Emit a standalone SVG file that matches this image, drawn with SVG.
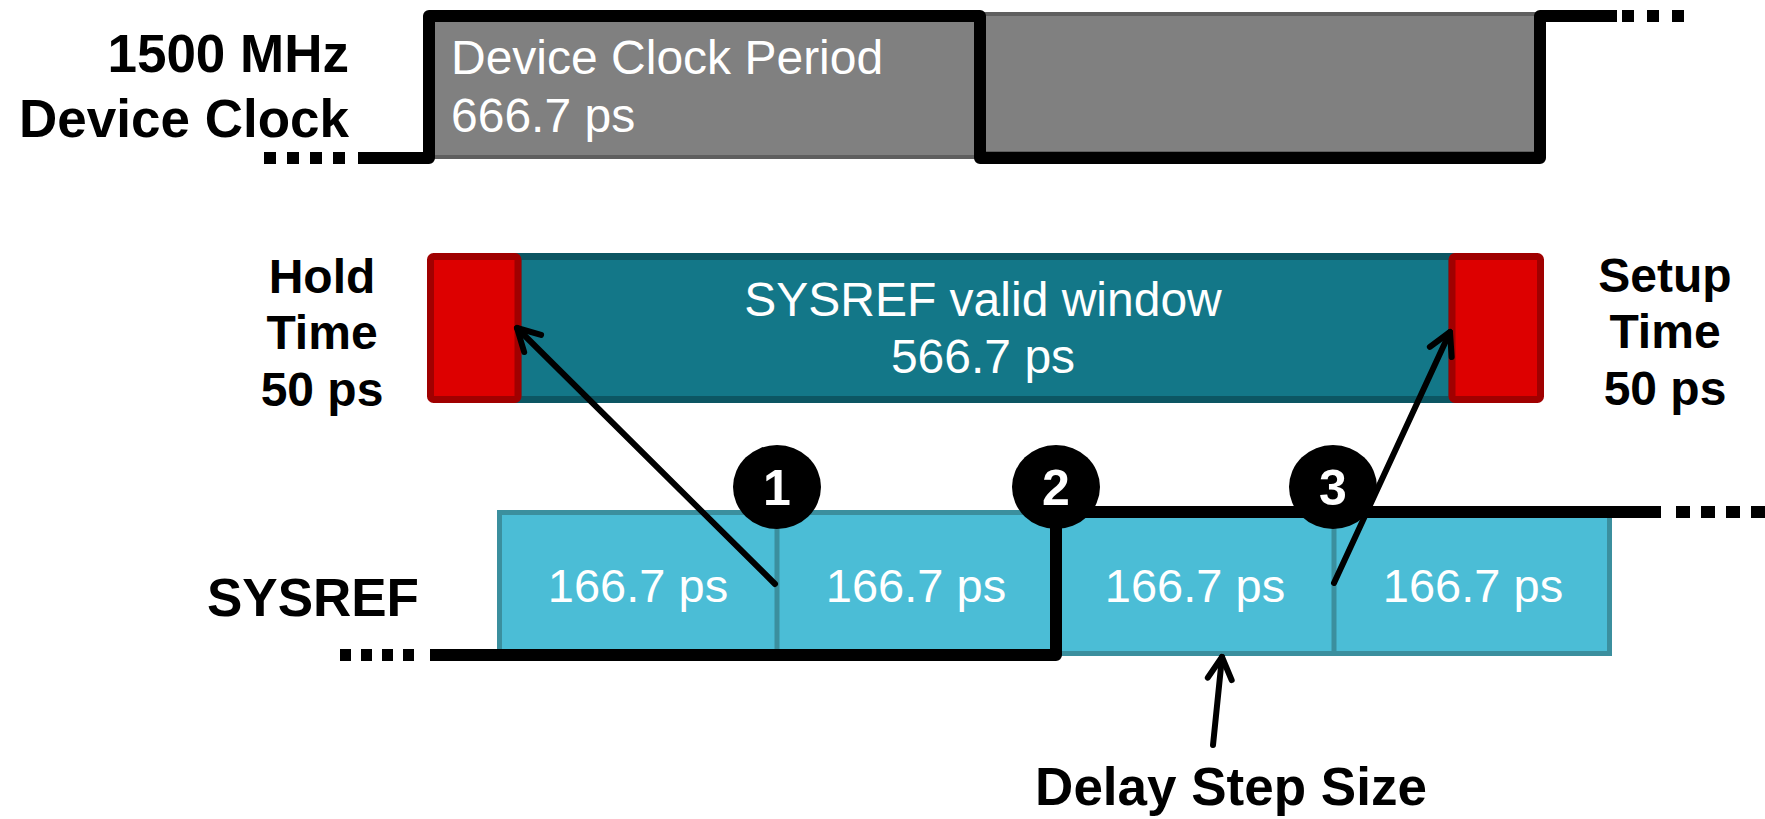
<svg xmlns="http://www.w3.org/2000/svg" width="1765" height="819" viewBox="0 0 1765 819">
  <style>
    .lbl { font-family: "Liberation Sans", Arial, sans-serif; font-weight: bold; fill: #000; }
    .val { font-family: "Liberation Sans", Arial, sans-serif; fill: #fff; font-size: 47px; }
    .big { font-size: 48px; }
    .num { font-family: "Liberation Sans", Arial, sans-serif; font-weight: bold; fill: #fff; font-size: 50px; text-anchor: middle; }
    .wave { fill: none; stroke: #000; stroke-width: 12; stroke-linejoin: round; }
    .dots { fill: none; stroke: #000; stroke-width: 12; }
    .period { fill: #808080; stroke: #5f5f5f; stroke-width: 4; }
    .hold { fill: #dd0000; stroke: #a00000; stroke-width: 7; }
    .valid { fill: #137788; stroke: #0c5663; stroke-width: 7; }
    .step { fill: #4bbdd6; stroke: #3b8f9e; stroke-width: 5; }
    .ptr { fill: none; stroke: #000; stroke-width: 6; stroke-linecap: round; }
    .badge { fill: #000; }
  </style>
  <defs>
    <marker id="open-head" markerUnits="userSpaceOnUse" markerWidth="40" markerHeight="40" refX="0" refY="0" viewBox="-30 -20 40 40" orient="auto" overflow="visible">
      <path d="M -22 -12 L 0 0 L -22 12" fill="none" stroke="#000" stroke-width="6" stroke-linecap="round" stroke-linejoin="round"/>
    </marker>
  </defs>

  <rect width="1765" height="819" fill="#fff"/>

  <!-- device clock -->
  <g id="device-clock">
    <rect class="period" x="433" y="16" width="545" height="141"/>
    <rect class="period" x="982" y="14" width="556" height="139"/>
    <text class="val big" x="451" y="74">Device Clock Period</text>
    <text class="val big" x="451" y="132">666.7 ps</text>
    <path class="dots" d="M 264 158 H 350" stroke-dasharray="12 11"/>
    <path class="wave" d="M 358 158 H 429 V 16 H 980 V 158 H 1540 V 16 H 1617"/>
    <path class="dots" d="M 1622 16 H 1690" stroke-dasharray="12 13"/>
  </g>
  <g id="clock-label">
    <text class="lbl" x="349" y="72" font-size="53" text-anchor="end">1500 MHz</text>
    <text class="lbl" x="349" y="137" font-size="53" text-anchor="end">Device Clock</text>
  </g>

  <!-- sampling window -->
  <g id="valid-window">
    <rect class="valid" x="518" y="256.5" width="934" height="143"/>
    <text class="val big" x="983" y="316" text-anchor="middle">SYSREF valid window</text>
    <text class="val big" x="983" y="373" text-anchor="middle">566.7 ps</text>
  </g>
  <g id="hold-window">
    <rect class="hold" x="430.5" y="256.5" width="87.5" height="143" rx="3"/>
  </g>
  <g id="setup-window">
    <rect class="hold" x="1452" y="256.5" width="88.5" height="143" rx="3"/>
  </g>
  <g id="hold-label">
    <text class="lbl" font-size="48" text-anchor="middle"><tspan x="322" y="293">Hold</tspan><tspan x="322" y="349">Time</tspan><tspan x="322" y="406">50 ps</tspan></text>
  </g>
  <g id="setup-label">
    <text class="lbl" font-size="48" text-anchor="middle"><tspan x="1665" y="292">Setup</tspan><tspan x="1665" y="348">Time</tspan><tspan x="1665" y="405">50 ps</tspan></text>
  </g>

  <!-- SYSREF delay steps -->
  <g id="delay-steps">
    <rect class="step" x="499.5" y="512.5" width="1110" height="141"/>
    <path d="M 777 512 V 654 M 1056 512 V 654 M 1334 512 V 654" stroke="#3b8f9e" stroke-width="5"/>
    <text class="val" x="638" y="602" text-anchor="middle">166.7 ps</text>
    <text class="val" x="916" y="602" text-anchor="middle">166.7 ps</text>
    <text class="val" x="1195" y="602" text-anchor="middle">166.7 ps</text>
    <text class="val" x="1473" y="602" text-anchor="middle">166.7 ps</text>
  </g>
  <g id="sysref-label">
    <text class="lbl" x="419" y="616" font-size="53" text-anchor="end">SYSREF</text>
  </g>
  <g id="sysref-wave">
    <path class="dots" d="M 340 655 H 420" stroke-dasharray="11 10"/>
    <path class="wave" d="M 430 655 H 1056 V 512 H 1661"/>
    <path class="dots" d="M 1676 512 H 1765" stroke-dasharray="14 11"/>
  </g>

  <!-- connectors -->
  <g id="connectors">
    <path class="ptr" d="M 775 584 L 517 328" marker-end="url(#open-head)"/>
    <path class="ptr" d="M 1334 583 L 1450 332" marker-end="url(#open-head)"/>
    <path class="ptr" d="M 1213 745 L 1222 657" marker-end="url(#open-head)"/>
  </g>

  <!-- numbered markers -->
  <g id="badge-1">
    <ellipse class="badge" cx="777" cy="487" rx="44" ry="42"/>
    <text class="num" x="777" y="505">1</text>
  </g>
  <g id="badge-2">
    <ellipse class="badge" cx="1056" cy="487" rx="44" ry="42"/>
    <text class="num" x="1056" y="505">2</text>
  </g>
  <g id="badge-3">
    <ellipse class="badge" cx="1333" cy="487" rx="44" ry="42"/>
    <text class="num" x="1333" y="505">3</text>
  </g>

  <g id="delay-label">
    <text class="lbl" x="1231" y="805" font-size="53" text-anchor="middle">Delay Step Size</text>
  </g>
</svg>
